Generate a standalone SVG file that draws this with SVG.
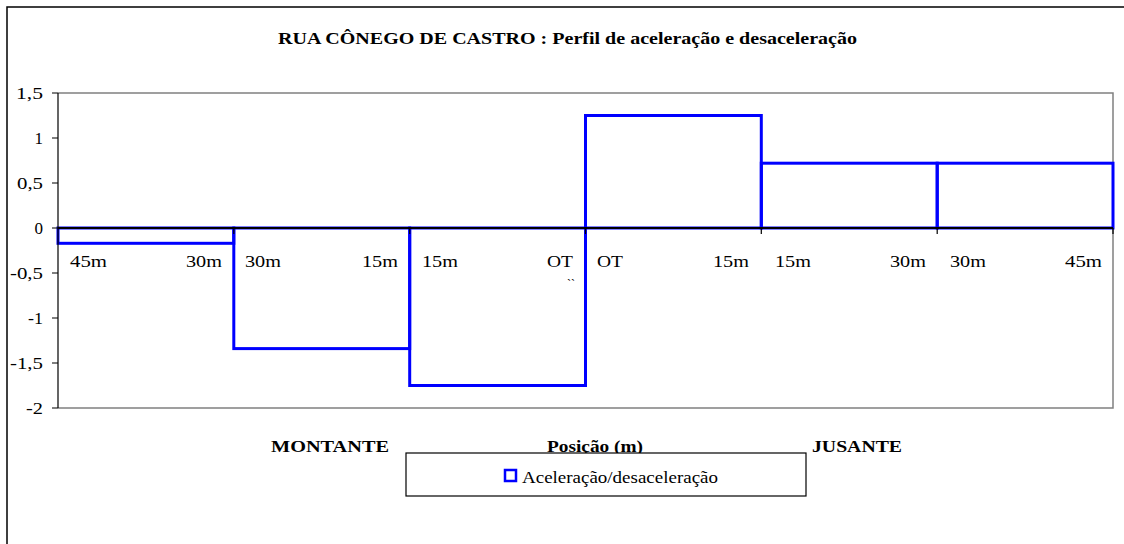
<svg xmlns="http://www.w3.org/2000/svg" width="1124" height="544" viewBox="0 0 1124 544">
<style>
text{font-family:"Liberation Serif","Times New Roman",serif;fill:#000;}
.t{font-size:17px;font-weight:bold;}
.lab{font-size:17px;}
.ya{font-size:17px;text-anchor:end;}
.bar{fill:none;stroke:#0000FF;stroke-width:3;}
.grid{stroke:#808080;stroke-width:1.5;fill:none;}
.ax{stroke:#000;stroke-width:1.2;fill:none;}
</style>
<rect x="0" y="0" width="1124" height="544" fill="#fff"/>
<rect id="frame" x="7" y="7" width="1140" height="560" fill="#fff" stroke="#000" stroke-width="1.5"/>
<g id="title"><text class="t" x="278" y="44" textLength="579" lengthAdjust="spacingAndGlyphs">RUA CÔNEGO DE CASTRO : Perfil de aceleração e desaceleração</text></g>
<g id="plot">
<path class="grid" d="M58 93H1113V408H58"/>
</g>
<g id="connectors">
<rect class="bar" x="58" y="228" width="175.8" height="15.3"/>
<rect class="bar" x="233.8" y="228" width="175.9" height="120.6"/>
<rect class="bar" x="409.7" y="228" width="175.8" height="157.5"/>
<rect class="bar" x="585.5" y="115.5" width="175.8" height="112.5"/>
<rect class="bar" x="761.3" y="163.2" width="175.9" height="64.8"/>
<rect class="bar" x="937.2" y="163.2" width="175.8" height="64.8"/>
</g>
<g id="axes">
<line x1="58" y1="228" x2="1113" y2="228" stroke="#000" stroke-width="2"/>
<path class="ax" d="M58 93V408M52 93H58M52 138H58M52 183H58M52 228H58M52 273H58M52 318H58M52 363H58M52 408H58"/>
<path class="ax" d="M233.8 228V234M409.7 228V234M585.5 228V234M761.3 228V234M937.2 228V234M1113 228V234"/>
</g>
<g id="yaxis-labels">
<text class="ya" x="43" y="99" textLength="27" lengthAdjust="spacingAndGlyphs">1,5</text>
<text class="ya" x="43" y="144">1</text>
<text class="ya" x="43" y="189" textLength="26" lengthAdjust="spacingAndGlyphs">0,5</text>
<text class="ya" x="43" y="234">0</text>
<text class="ya" x="43" y="279" textLength="33" lengthAdjust="spacingAndGlyphs">-0,5</text>
<text class="ya" x="43" y="324" textLength="15" lengthAdjust="spacingAndGlyphs">-1</text>
<text class="ya" x="43" y="369" textLength="33" lengthAdjust="spacingAndGlyphs">-1,5</text>
<text class="ya" x="43" y="414" textLength="17" lengthAdjust="spacingAndGlyphs">-2</text>
</g>
<g id="category-labels" class="lab">
<text class="lab" x="70" y="267" textLength="37" lengthAdjust="spacingAndGlyphs">45m</text>
<text class="lab" x="186" y="267" textLength="36" lengthAdjust="spacingAndGlyphs">30m</text>
<text class="lab" x="245" y="267" textLength="36" lengthAdjust="spacingAndGlyphs">30m</text>
<text class="lab" x="362" y="267" textLength="36" lengthAdjust="spacingAndGlyphs">15m</text>
<text class="lab" x="422" y="267" textLength="36" lengthAdjust="spacingAndGlyphs">15m</text>
<text class="lab" x="547" y="267" textLength="26" lengthAdjust="spacingAndGlyphs">OT</text>
<text x="567" y="288" style="font-size:12px">``</text>
<text class="lab" x="597" y="267" textLength="26" lengthAdjust="spacingAndGlyphs">OT</text>
<text class="lab" x="713" y="267" textLength="36" lengthAdjust="spacingAndGlyphs">15m</text>
<text class="lab" x="775" y="267" textLength="36" lengthAdjust="spacingAndGlyphs">15m</text>
<text class="lab" x="890" y="267" textLength="36" lengthAdjust="spacingAndGlyphs">30m</text>
<text class="lab" x="950" y="267" textLength="36" lengthAdjust="spacingAndGlyphs">30m</text>
<text class="lab" x="1065" y="267" textLength="37" lengthAdjust="spacingAndGlyphs">45m</text>
</g>
<g id="axis-titles">
<text class="t" x="271" y="452" textLength="118" lengthAdjust="spacingAndGlyphs">MONTANTE</text>
<text class="t" x="547" y="452" textLength="96" lengthAdjust="spacingAndGlyphs">Posição (m)</text>
<text class="t" x="812" y="452" textLength="90" lengthAdjust="spacingAndGlyphs">JUSANTE</text>
</g>
<g id="legend">
<rect x="406" y="453" width="400" height="43" fill="#fff" stroke="#000" stroke-width="1.2"/>
<rect x="505" y="470" width="11" height="11" fill="#fff" stroke="#0000FF" stroke-width="2.5"/>
<text class="lab" x="522" y="483" textLength="196" lengthAdjust="spacingAndGlyphs">Aceleração/desaceleração</text>
</g>
</svg>
